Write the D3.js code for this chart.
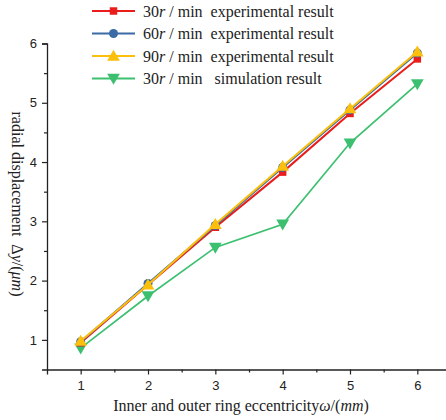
<!DOCTYPE html>
<html>
<head>
<meta charset="utf-8">
<script src="https://cdn.jsdelivr.net/npm/d3@7"></script>
<style>
  html, body { margin: 0; padding: 0; background: #fff; }
  svg { display: block; }
  text { white-space: pre; }
</style>
</head>
<body>
<svg id="chart" width="446" height="420"></svg>
<script>
// Eccentricity values (mm)
const eccentricity = [1, 2, 3, 4, 5, 6];
// Radial displacement (μm) per series
const exp30 = [0.95, 1.93, 2.90, 3.83, 4.82, 5.74];
const exp60 = [0.97, 1.95, 2.93, 3.91, 4.88, 5.84];
const exp90 = [0.98, 1.93, 2.95, 3.93, 4.90, 5.86];
const sim30 = [0.86, 1.74, 2.56, 2.95, 4.32, 5.32];
const xTicks = [1, 2, 3, 4, 5, 6];
const yTicks = [1, 2, 3, 4, 5, 6];

const seriesNames = ["30r/min experimental result", "60r/min experimental result",
                     "90r/min experimental result", "30r/min simulation result"];

const svg = d3.select("#chart");
const x = d3.scaleLinear().domain([0.5, 6.5]).range([47, 451]);
const y = d3.scaleLinear().domain([0.5, 6]).range([369.5, 43.5]);

// Axes
const xAxis = svg.append("g").attr("transform", `translate(0,${y(0.5)})`)
  .call(d3.axisBottom(x).tickValues(xTicks).tickSize(5).tickPadding(6).tickFormat(d3.format("d")));
const xMinor = svg.append("g").attr("transform", `translate(0,${y(0.5)})`)
  .call(d3.axisBottom(x).tickValues([1.5, 2.5, 3.5, 4.5, 5.5]).tickSize(3).tickFormat(""));
const yAxis = svg.append("g").attr("transform", `translate(${x(0.5)},0)`)
  .call(d3.axisLeft(y).tickValues(yTicks).tickSize(5).tickPadding(5).tickFormat(d3.format("d")));
const yMinor = svg.append("g").attr("transform", `translate(${x(0.5)},0)`)
  .call(d3.axisLeft(y).tickValues([1.5, 2.5, 3.5, 4.5, 5.5]).tickSize(3).tickFormat(""));

[xAxis, xMinor, yAxis, yMinor].forEach(g => {
  g.selectAll("path.domain").attr("stroke", "#222").attr("stroke-width", 1.3);
  g.selectAll(".tick line").attr("stroke", "#222").attr("stroke-width", 1.2);
  g.selectAll(".tick text").attr("fill", "#222")
    .style("font-family", "'Liberation Sans', Arial, sans-serif").style("font-size", "13px");
});
xMinor.select("path.domain").remove();
yMinor.select("path.domain").remove();

// Marker shapes
const sym = {
  square: d3.symbol().type(d3.symbolSquare).size(56),
  circle: d3.symbol().type(d3.symbolCircle).size(64),
  tri: d3.symbol().type(d3.symbolTriangle).size(70),
};

const series = [
  { name: seriesNames[3], values: sim30, color: "#3cc070", shape: "tri", rot: 180, w: 1.7 },
  { name: seriesNames[0], values: exp30, color: "#ea1c1c", shape: "square", rot: 0, w: 2 },
  { name: seriesNames[1], values: exp60, color: "#3b6ba5", shape: "circle", rot: 0, w: 2 },
  { name: seriesNames[2], values: exp90, color: "#fbbf0c", shape: "tri", rot: 0, w: 2 },
];

const line = d3.line().x((d, i) => x(eccentricity[i])).y(d => y(d));

series.forEach(s => {
  svg.append("path").datum(s.values)
    .attr("d", line).attr("fill", "none")
    .attr("stroke", s.color).attr("stroke-width", s.w);
  svg.append("g").selectAll("path").data(s.values).join("path")
    .attr("d", sym[s.shape]())
    .attr("transform", (d, i) => `translate(${x(eccentricity[i])},${y(d) + (s.shape === "tri" ? (s.rot ? -1 : 1) : 0)}) rotate(${s.rot})`)
    .attr("fill", s.color);
});

// Legend
const legendRows = [
  { label: "experimental result", speed: "30", color: "#ea1c1c", shape: "square", rot: 0 },
  { label: "experimental result", speed: "60", color: "#3b6ba5", shape: "circle", rot: 0 },
  { label: "experimental result", speed: "90", color: "#fbbf0c", shape: "tri", rot: 0 },
  { label: " simulation result", speed: "30", color: "#3cc070", shape: "tri", rot: 180 },
];
const legend = svg.append("g");
legendRows.forEach((r, i) => {
  const cy = 11 + i * 22.5;
  const g = legend.append("g").attr("transform", `translate(0,${cy})`);
  g.append("line").attr("x1", 92).attr("x2", 135).attr("y1", 0).attr("y2", 0)
    .attr("stroke", r.color).attr("stroke-width", 2);
  g.append("path").attr("d", sym[r.shape]())
    .attr("transform", `translate(113.5,${r.shape === "tri" ? (r.rot ? -1 : 1) : 0}) rotate(${r.rot})`)
    .attr("fill", r.color);
  const t = g.append("text").attr("x", 143).attr("y", 5.5)
    .style("font-family", "'Liberation Serif', 'Times New Roman', serif")
    .style("font-size", "16px").attr("fill", "#222");
  t.append("tspan").text(r.speed);
  t.append("tspan").attr("font-style", "italic").text("r");
  t.append("tspan").text(" / min  " + r.label);
});

// Axis titles
const xt = svg.append("text").attr("x", 241).attr("y", 411).attr("text-anchor", "middle")
  .style("font-family", "'Liberation Serif', 'Times New Roman', serif")
  .style("font-size", "16px").attr("fill", "#222");
xt.append("tspan").text("Inner and outer ring eccentricity");
xt.append("tspan").attr("font-style", "italic").text("ω");
xt.append("tspan").text("/(");
xt.append("tspan").attr("font-style", "italic").text("mm");
xt.append("tspan").text(")");

const yt = svg.append("text").attr("transform", "translate(12,204) rotate(90)")
  .attr("text-anchor", "middle")
  .style("font-family", "'Liberation Serif', 'Times New Roman', serif")
  .style("font-size", "16px").attr("fill", "#222");
yt.append("tspan").text("radial displacement  Δ");
yt.append("tspan").attr("font-style", "italic").text("y");
yt.append("tspan").text("/(");
yt.append("tspan").attr("font-style", "italic").text("μm");
yt.append("tspan").text(")");
</script>
</body>
</html>
